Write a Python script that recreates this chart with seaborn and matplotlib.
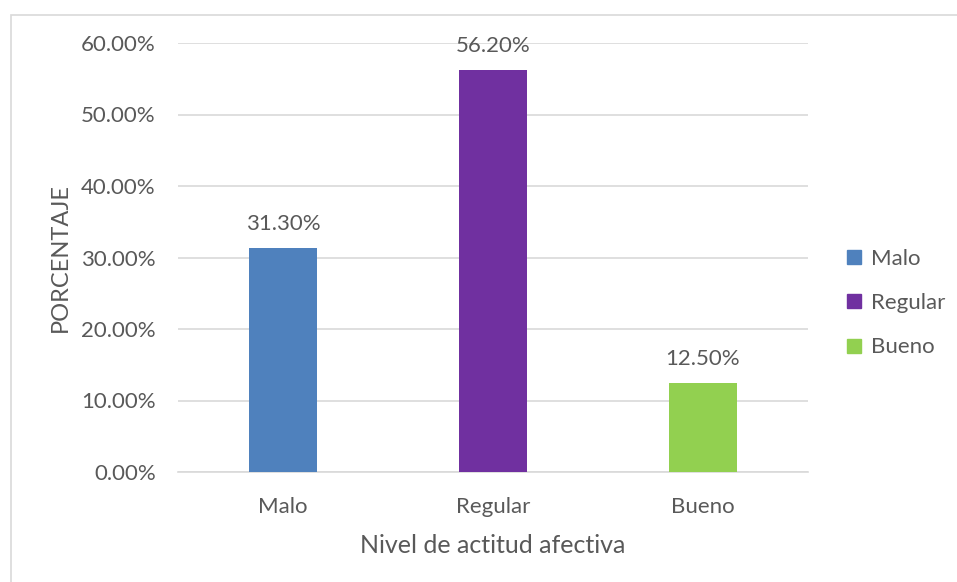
import seaborn as sns
import matplotlib.pyplot as plt
from matplotlib.lines import Line2D
from matplotlib.ticker import PercentFormatter

categories = ["Malo", "Regular", "Bueno"]
percentages = [31.30, 56.20, 12.50]
colors = ["#4F81BD", "#7030A0", "#92D050"]
y_ticks = [0, 10, 20, 30, 40, 50, 60]

sns.set_style("white")
plt.rcParams["font.family"] = ["Lato", "DejaVu Sans"]
text_color = "#595959"

fig = plt.figure(figsize=(9.57, 5.82), dpi=100)
ax = fig.add_axes([178 / 957, 1 - 472 / 582, 630 / 957, 429 / 582])

sns.barplot(x=categories, y=percentages, hue=categories, palette=colors,
            saturation=1, linewidth=0, width=0.32, dodge=False, legend=False,
            ax=ax, zorder=3)

for cont in ax.containers:
    ax.bar_label(cont, fmt="%.2f%%", padding=10, fontsize=16, color=text_color)

ax.set_ylim(0, 60)
ax.set_yticks(y_ticks)
ax.yaxis.set_major_formatter(PercentFormatter(decimals=2))
ax.grid(axis="y", color="#D9D9D9", linewidth=1.2, zorder=0)
for s in ["top", "right", "left"]:
    ax.spines[s].set_visible(False)
ax.spines["bottom"].set_color("#D9D9D9")
ax.spines["bottom"].set_linewidth(1.2)
ax.tick_params(axis="both", length=0, labelsize=16, labelcolor=text_color)
ax.tick_params(axis="y", pad=16)
ax.tick_params(axis="x", pad=18)

ax.set_xlabel("Nivel de actitud afectiva", fontsize=18, color=text_color, labelpad=12)
ax.set_ylabel("PORCENTAJE", fontsize=17, color=text_color)
ax.yaxis.set_label_coords(-0.170, 0.5)

handles = [Line2D([0], [0], marker="s", linestyle="", markersize=10,
                  markerfacecolor=c, markeredgecolor=c) for c in colors]
fig.legend(handles, categories, loc="center left", bbox_to_anchor=(823 / 957, 1 - 303 / 582),
           frameon=False, fontsize=16, labelcolor=text_color, handletextpad=0.25,
           labelspacing=1.1, handlelength=1.0)

# chart border
fig.add_artist(plt.Rectangle((10.5 / 957, -0.1), 1.0, 1 - 14.5 / 582 + 0.1,
                             transform=fig.transFigure, fill=False,
                             edgecolor="#D9D9D9", linewidth=1.2))

fig.savefig("out.png", dpi=100)
